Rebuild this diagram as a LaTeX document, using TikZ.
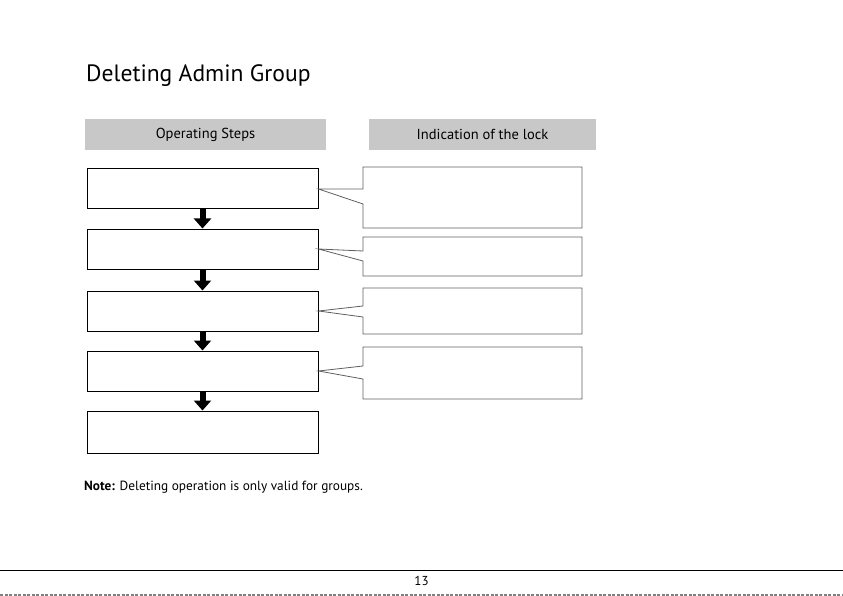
\documentclass[tikz,border=0pt]{standalone}
\usepackage{fontspec}
\setmainfont{PT Sans}
\usetikzlibrary{arrows.meta}
\definecolor{headgray}{RGB}{200,200,200}
\definecolor{lockgray}{RGB}{95,95,95}
\begin{document}
\begin{tikzpicture}[x=1pt,y=-1pt]
    \tikzset{>={Triangle[width=17pt,length=10pt]}}
    \tikzset{stepbox/.style={draw,line width=1pt,minimum width=231pt,minimum height=40pt,inner sep=0pt}}
    \tikzset{headbox/.style={fill=headgray,minimum height=31pt,inner sep=0pt,font=\fontsize{14.5}{17}\selectfont}}
    \tikzset{lockline/.style={draw=lockgray,line width=0.8pt,line join=miter}}
    \useasboundingbox (0,0) rectangle (843,596);
    % title and headers
    \node[anchor=base west,inner sep=0pt,font=\fontsize{23.6}{28}\selectfont] (title) at (86,82) {Deleting Admin Group};
    \node[headbox,minimum width=241pt] (ops) at (205.5,134.5) {Operating Steps};
    \node[headbox,minimum width=227pt] (ind) at (482.5,134.5) {Indication of the lock};
    % operating steps
    \node[stepbox] (s1) at (202.5,189) {};
    \node[stepbox] (s2) at (202.5,249) {};
    \node[stepbox] (s3) at (202.5,311) {};
    \node[stepbox] (s4) at (202.5,371) {};
    \node[stepbox,minimum height=42pt] (s5) at (202.5,432) {};
    \draw[->,line width=6pt] (s1.south) -- (s2.north);
    \draw[->,line width=6pt] (s2.south) -- (s3.north);
    \draw[->,line width=6pt] (s3.south) -- (s4.north);
    \draw[->,line width=6pt] (s4.south) -- (s5.north);
    % lock indications
    \draw[lockline] (s1.east) -- (363,189) |- (582,167) |- (363,228) -- (363,204) -- cycle;
    \draw[lockline] (s2.east) -- (363,251) |- (582,237) |- (363,276) -- (363,261) -- cycle;
    \draw[lockline] (s3.east) -- (363,306) |- (582,288) |- (363,334) -- (363,317) -- cycle;
    \draw[lockline] (s4.east) -- (363,366) |- (582,347) |- (363,399) -- (363,379) -- cycle;
    % note and footer
    \node[anchor=base west,inner sep=0pt,font=\fontsize{13.3}{15}\selectfont] (note) at (84,490) {\textbf{Note:} Deleting operation is only valid for groups.};
    \coordinate (fl) at (0,570);
    \coordinate (fr) at (843,570);
    \draw[line width=1pt] (fl) -- (fr);
    \node[font=\fontsize{13}{15}\selectfont] (page) at (421.5,581) {13};
    \coordinate (bl) at (0,595);
    \coordinate (br) at (843,595);
    \draw[gray,line width=2pt,dash pattern=on 3pt off 1.5pt] (bl) -- (br);
\end{tikzpicture}
\end{document}
